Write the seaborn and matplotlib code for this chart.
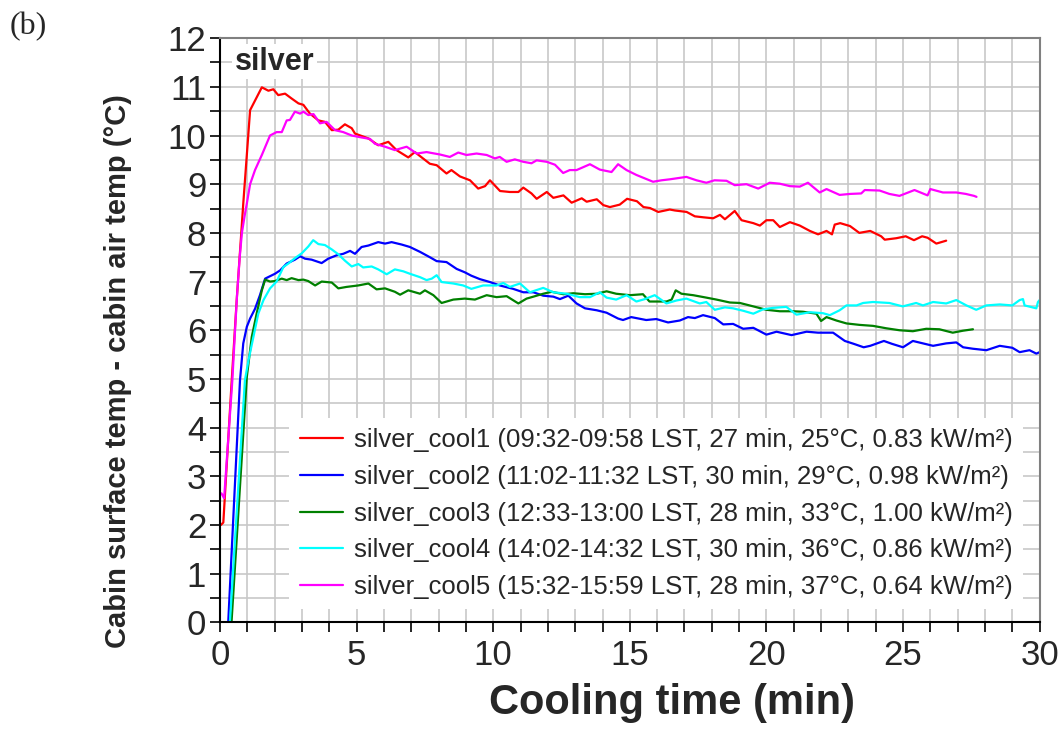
import numpy as np
import pandas as pd
import seaborn as sns
import matplotlib.pyplot as plt
from matplotlib.ticker import MultipleLocator

# silver_cool1
t1 = [0.03, 0.12, 0.42, 0.61, 0.85, 1.10, 1.53, 1.77, 1.95, 2.13, 2.38, 2.62, 2.87, 3.05, 3.29, 3.60, 3.84,
      4.09, 4.33, 4.57, 4.82, 4.94, 5.43, 5.79, 6.16, 6.46, 6.89, 7.13, 7.68, 7.93, 8.29, 8.47, 8.78, 9.15,
      9.45, 9.70, 9.88, 10.25, 10.61, 10.92, 11.10, 11.40, 11.59, 11.96, 12.20, 12.57, 12.87, 13.24, 13.42,
      13.79, 14.03, 14.27, 14.63, 14.90, 15.26, 15.50, 15.74, 16.04, 16.46, 16.65, 17.08, 17.38, 17.69, 18.05,
      18.30, 18.48, 18.84, 19.09, 19.52, 19.76, 20.00, 20.25, 20.49, 20.86, 21.22, 21.59, 21.89, 22.20, 22.40,
      22.50, 22.70, 23.06, 23.40, 23.80, 24.20, 24.33, 24.75, 25.10, 25.40, 25.70, 25.90, 26.22, 26.58]
y1 = [2.00, 2.05, 4.90, 6.62, 8.60, 10.52, 10.99, 10.92, 10.95, 10.83, 10.86, 10.76, 10.66, 10.63, 10.45, 10.31,
      10.28, 10.11, 10.12, 10.23, 10.15, 10.04, 9.94, 9.80, 9.87, 9.70, 9.55, 9.66, 9.42, 9.39, 9.22, 9.29,
      9.16, 9.08, 8.91, 8.96, 9.08, 8.86, 8.84, 8.84, 8.93, 8.81, 8.70, 8.84, 8.72, 8.77, 8.62, 8.71, 8.64,
      8.69, 8.57, 8.53, 8.58, 8.70, 8.65, 8.53, 8.51, 8.43, 8.48, 8.46, 8.43, 8.34, 8.32, 8.30, 8.37, 8.28,
      8.45, 8.26, 8.20, 8.15, 8.26, 8.26, 8.12, 8.22, 8.15, 8.04, 7.97, 8.04, 7.97, 8.17, 8.20, 8.14, 8.00,
      8.04, 7.93, 7.86, 7.89, 7.93, 7.85, 7.93, 7.90, 7.78, 7.84]

# silver_cool2
t2 = [0.30, 0.73, 0.85, 0.98, 1.10, 1.28, 1.46, 1.65, 1.83, 2.01, 2.20, 2.44, 2.74, 2.93, 3.11, 3.35, 3.72,
      3.96, 4.27, 4.51, 4.76, 4.94, 5.18, 5.43, 5.79, 6.04, 6.28, 6.65, 6.95, 7.32, 7.68, 7.93, 8.29, 8.66,
      8.96, 9.20, 9.51, 9.88, 10.24, 10.73, 11.10, 11.47, 11.83, 12.20, 12.44, 12.75, 13.05, 13.36, 13.79,
      14.15, 14.57, 14.75, 15.05, 15.60, 15.97, 16.40, 16.83, 17.13, 17.38, 17.68, 18.11, 18.42, 18.78, 19.15,
      19.52, 20.00, 20.37, 20.92, 21.47, 21.89, 22.44, 22.87, 23.20, 23.56, 23.80, 24.30, 24.60, 25.00, 25.36,
      26.10, 26.58, 26.95, 27.20, 27.56, 28.05, 28.54, 29.00, 29.27, 29.63, 29.88, 30.00]
y2 = [0.00, 4.97, 5.73, 6.07, 6.24, 6.44, 6.72, 7.06, 7.11, 7.16, 7.23, 7.37, 7.45, 7.52, 7.47, 7.45, 7.38,
      7.47, 7.54, 7.57, 7.63, 7.57, 7.71, 7.74, 7.81, 7.78, 7.81, 7.76, 7.71, 7.61, 7.50, 7.42, 7.40, 7.26,
      7.19, 7.12, 7.05, 6.99, 6.92, 6.85, 6.78, 6.78, 6.71, 6.69, 6.64, 6.71, 6.55, 6.45, 6.41, 6.36, 6.24,
      6.21, 6.27, 6.21, 6.23, 6.16, 6.20, 6.27, 6.25, 6.31, 6.25, 6.12, 6.13, 6.03, 6.05, 5.91, 5.97, 5.90,
      5.97, 5.95, 5.95, 5.78, 5.72, 5.65, 5.68, 5.78, 5.72, 5.65, 5.78, 5.68, 5.73, 5.75, 5.65, 5.62, 5.59,
      5.68, 5.64, 5.55, 5.59, 5.52, 5.55]

# silver_cool3
t3 = [0.42, 0.98, 1.16, 1.34, 1.53, 1.65, 1.83, 2.00, 2.26, 2.44, 2.62, 2.87, 3.05, 3.23, 3.48, 3.72, 4.09,
      4.33, 4.63, 5.06, 5.43, 5.73, 6.04, 6.40, 6.59, 6.89, 7.32, 7.50, 7.81, 8.11, 8.54, 8.96, 9.33, 9.76,
      10.12, 10.49, 10.92, 11.22, 11.47, 11.83, 12.14, 12.57, 12.93, 13.36, 13.79, 14.15, 14.50, 15.00, 15.48,
      15.72, 16.34, 16.53, 16.68, 16.89, 17.32, 17.80, 18.17, 18.66, 19.03, 19.52, 20.00, 20.49, 20.98, 21.34,
      21.83, 22.00, 22.20, 22.56, 22.93, 23.41, 23.90, 24.39, 24.87, 25.36, 25.85, 26.33, 26.82, 27.19, 27.56]
y3 = [0.00, 5.04, 5.86, 6.34, 6.82, 7.04, 7.00, 7.01, 7.06, 7.03, 7.07, 7.03, 7.04, 7.01, 6.92, 7.00, 6.98,
      6.86, 6.89, 6.92, 6.96, 6.84, 6.86, 6.79, 6.73, 6.82, 6.75, 6.82, 6.72, 6.56, 6.63, 6.65, 6.63, 6.72,
      6.68, 6.70, 6.55, 6.65, 6.69, 6.75, 6.79, 6.74, 6.76, 6.74, 6.75, 6.80, 6.75, 6.72, 6.74, 6.59, 6.59,
      6.63, 6.82, 6.75, 6.72, 6.67, 6.63, 6.57, 6.56, 6.49, 6.42, 6.39, 6.39, 6.38, 6.34, 6.19, 6.27, 6.20,
      6.14, 6.11, 6.09, 6.04, 6.00, 5.98, 6.03, 6.02, 5.95, 5.99, 6.02]

# silver_cool4
t4 = [0.36, 0.91, 1.04, 1.22, 1.40, 1.59, 1.83, 2.07, 2.32, 2.50, 2.74, 2.99, 3.23, 3.41, 3.60, 3.84, 4.09,
      4.33, 4.57, 4.82, 5.06, 5.24, 5.55, 5.79, 6.10, 6.40, 6.71, 6.95, 7.32, 7.56, 7.75, 7.93, 8.11, 8.54,
      8.90, 9.20, 9.63, 10.12, 10.37, 10.61, 10.98, 11.34, 11.83, 12.20, 12.69, 13.17, 13.54, 13.90, 14.15,
      14.50, 14.88, 15.24, 15.55, 15.91, 16.34, 16.70, 17.07, 17.56, 17.80, 18.11, 18.48, 18.78, 19.15, 19.52,
      19.88, 20.25, 20.73, 21.10, 21.59, 22.07, 22.32, 22.68, 22.93, 23.30, 23.54, 23.90, 24.50, 24.99, 25.48,
      25.73, 26.10, 26.58, 26.95, 27.32, 27.68, 28.05, 28.54, 29.00, 29.27, 29.39, 29.45, 29.88, 29.94, 30.00]
y4 = [0.00, 4.97, 5.38, 5.86, 6.34, 6.62, 6.86, 7.00, 7.30, 7.37, 7.48, 7.58, 7.72, 7.85, 7.77, 7.75, 7.66,
      7.56, 7.43, 7.31, 7.36, 7.29, 7.31, 7.25, 7.15, 7.25, 7.21, 7.16, 7.09, 7.03, 7.06, 7.13, 6.99, 6.96,
      6.92, 6.85, 6.92, 6.92, 6.97, 6.89, 6.96, 6.78, 6.87, 6.78, 6.75, 6.68, 6.68, 6.78, 6.67, 6.63, 6.72,
      6.59, 6.64, 6.72, 6.55, 6.61, 6.65, 6.55, 6.58, 6.42, 6.47, 6.45, 6.40, 6.34, 6.43, 6.46, 6.48, 6.32,
      6.37, 6.35, 6.31, 6.41, 6.51, 6.51, 6.56, 6.58, 6.56, 6.49, 6.56, 6.51, 6.58, 6.55, 6.62, 6.51, 6.42,
      6.51, 6.53, 6.51, 6.62, 6.64, 6.51, 6.45, 6.58, 6.62]

# silver_cool5
t5 = [0.05, 0.15, 0.45, 0.55, 0.62, 0.72, 0.80, 0.90, 0.98, 1.10, 1.28, 1.53, 1.83, 2.07, 2.26, 2.44, 2.56,
      2.74, 2.93, 3.05, 3.23, 3.42, 3.66, 3.90, 4.21, 4.51, 4.82, 5.18, 5.49, 5.67, 6.04, 6.40, 6.83, 7.20,
      7.56, 8.05, 8.41, 8.72, 9.02, 9.39, 9.76, 10.06, 10.24, 10.49, 10.79, 11.10, 11.40, 11.59, 11.96, 12.26,
      12.56, 12.80, 13.05, 13.54, 13.90, 14.33, 14.57, 14.88, 15.24, 15.85, 16.16, 16.46, 17.07, 17.44, 17.80,
      18.10, 18.54, 18.84, 19.27, 19.70, 20.12, 20.49, 20.86, 21.22, 21.52, 21.95, 22.20, 22.68, 23.06, 23.47,
      23.60, 24.14, 24.50, 24.87, 25.42, 25.90, 26.00, 26.46, 26.95, 27.30, 27.60, 27.69]
y5 = [2.65, 2.55, 4.97, 6.00, 6.70, 7.50, 8.00, 8.35, 8.60, 9.00, 9.29, 9.60, 10.00, 10.07, 10.07, 10.31, 10.32,
      10.49, 10.45, 10.49, 10.42, 10.44, 10.25, 10.28, 10.11, 10.07, 10.00, 9.96, 9.93, 9.83, 9.77, 9.70, 9.77,
      9.63, 9.66, 9.61, 9.56, 9.65, 9.60, 9.63, 9.60, 9.53, 9.56, 9.46, 9.51, 9.46, 9.43, 9.49, 9.46, 9.40,
      9.23, 9.29, 9.29, 9.41, 9.30, 9.25, 9.41, 9.29, 9.19, 9.05, 9.08, 9.10, 9.15, 9.08, 9.03, 9.08, 9.07,
      8.98, 9.00, 8.91, 9.03, 9.01, 8.96, 8.95, 9.03, 8.83, 8.90, 8.78, 8.80, 8.81, 8.88, 8.87, 8.80, 8.76,
      8.88, 8.77, 8.90, 8.83, 8.83, 8.80, 8.76, 8.74]

labels = ['silver_cool1 (09:32-09:58 LST, 27 min, 25°C, 0.83 kW/m²)',
          'silver_cool2 (11:02-11:32 LST, 30 min, 29°C, 0.98 kW/m²)',
          'silver_cool3 (12:33-13:00 LST, 28 min, 33°C, 1.00 kW/m²)',
          'silver_cool4 (14:02-14:32 LST, 30 min, 36°C, 0.86 kW/m²)',
          'silver_cool5 (15:32-15:59 LST, 28 min, 37°C, 0.64 kW/m²)']
colors = ['#ff0000', '#0000ff', '#008000', '#00ffff', '#ff00ff']

sns.set_style('white')
plt.rcParams['font.family'] = ['Liberation Sans', 'DejaVu Sans']

fig = plt.figure(figsize=(10.63, 7.48), dpi=100)
ax = fig.add_axes([0.207, 0.168, 0.771, 0.781])

series = [(t1, y1), (t2, y2), (t3, y3), (t4, y4), (t5, y5)]
for (t, y), lab, c in zip(series, labels, colors):
    sns.lineplot(x=t, y=y, color=c, label=lab, lw=1.6, ax=ax, sort=False, errorbar=None)

ax.set_xlim(0, 30)
ax.set_ylim(0, 12)
ax.xaxis.set_major_locator(MultipleLocator(5))
ax.xaxis.set_minor_locator(MultipleLocator(1))
ax.yaxis.set_major_locator(MultipleLocator(1))
ax.yaxis.set_minor_locator(MultipleLocator(0.5))
ax.grid(True, which='both', color='#c8c8c8', lw=1.2)
ax.set_axisbelow(True)
ax.tick_params(which='both', direction='out', length=7, width=1.2, color='black',
               left=True, bottom=True, labelsize=25)
ax.tick_params(axis='x', pad=5)
ax.tick_params(axis='y', pad=3)
for s in ['left', 'bottom']:
    ax.spines[s].set_color('black')
    ax.spines[s].set_linewidth(1.5)
for s in ['top', 'right']:
    ax.spines[s].set_color('#808080')
    ax.spines[s].set_linewidth(1.5)

ax.set_xlabel('Cooling time (min)', fontsize=30, fontweight='bold')
ax.xaxis.set_label_coords(0.551, -0.104)
ax.set_ylabel('Cabin surface temp - cabin air temp (°C)', fontsize=21, fontweight='bold')
ax.yaxis.set_label_coords(-0.108, 0.43)

ax.text(0.018, 0.96, 'silver', transform=ax.transAxes, fontsize=22, fontweight='bold',
        va='center', ha='left', bbox=dict(facecolor='white', edgecolor='none', pad=2))

leg = ax.legend(loc='lower right', bbox_to_anchor=(0.995, 0.0), fontsize=18.5, frameon=True,
                handlelength=1.7, handletextpad=0.4, labelspacing=0.5, borderpad=0.4)
leg.get_frame().set_facecolor('white')
leg.get_frame().set_edgecolor('none')
leg.get_frame().set_alpha(1)

fig.text(0.009, 0.964, '(b)', fontsize=23, family='Liberation Serif', va='center', ha='left')

fig.savefig('out.png', dpi=100)
